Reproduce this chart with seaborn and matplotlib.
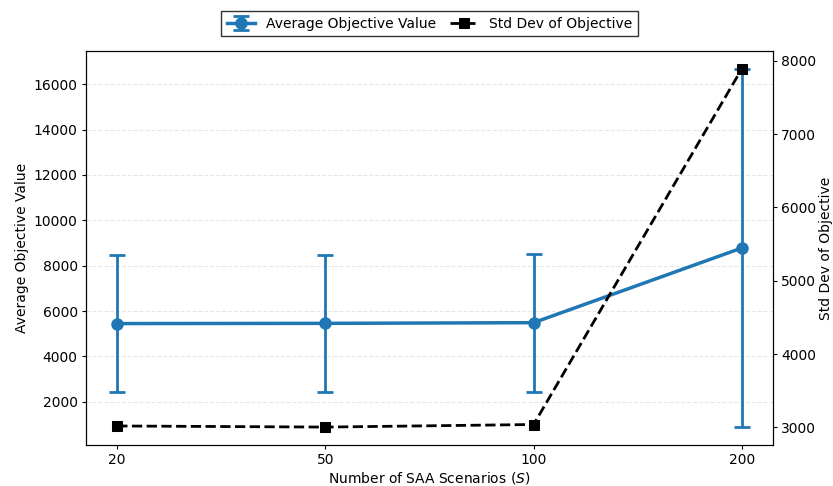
import matplotlib
matplotlib.use("Agg")
import matplotlib.pyplot as plt
import seaborn as sns
import pandas as pd

# values
scenarios = ["20", "50", "100", "200"]
avg_obj = [5450, 5460, 5490, 8780]
std_obj = [3020, 3005, 3040, 7890]

df = pd.DataFrame({"S": scenarios, "avg": avg_obj, "std": std_obj})
df["pos"] = range(len(df))

plt.rcParams["font.family"] = ["DejaVu Sans"]
plt.rcParams["xtick.major.size"] = 3
plt.rcParams["ytick.major.size"] = 3
plt.rcParams["xtick.major.pad"] = 3
plt.rcParams["ytick.major.pad"] = 3
fig = plt.figure(figsize=(8.33, 4.86), dpi=100)
ax = fig.add_axes([0.1032, 0.0844, 0.8248, 0.8106])

# average objective with std error bars
ax.errorbar(df["pos"], df["avg"], yerr=df["std"], color="#1f77b4", marker="o",
            markersize=8, linewidth=2.5, elinewidth=2, capsize=6, capthick=2,
            label="Average Objective Value")
ax.set_xticks(df["pos"])
ax.set_xticklabels(scenarios)
ax.set_xlabel("Number of SAA Scenarios ($S$)", labelpad=2)
ax.set_ylabel("Average Objective Value", labelpad=3)
ax.grid(True, axis="y", linestyle="--", alpha=0.3)

# std dev on the twin axis
ax2 = ax.twinx()
sns.lineplot(data=df, x="pos", y="std", ax=ax2, color="black", linestyle="--",
             linewidth=2, marker="s", markersize=7, markeredgecolor="black",
             label="Std Dev of Objective", legend=False)
ax2.set_ylabel("Std Dev of Objective", labelpad=2)
ax2.set_xlabel("")

h1, l1 = ax.get_legend_handles_labels()
h2, l2 = ax2.get_legend_handles_labels()
ax.legend(h1 + h2, l1 + l2, loc="lower center", bbox_to_anchor=(0.5, 1.02), ncol=2,
          fancybox=False, edgecolor="black", columnspacing=1.0)

fig.savefig("out.png", dpi=100)
